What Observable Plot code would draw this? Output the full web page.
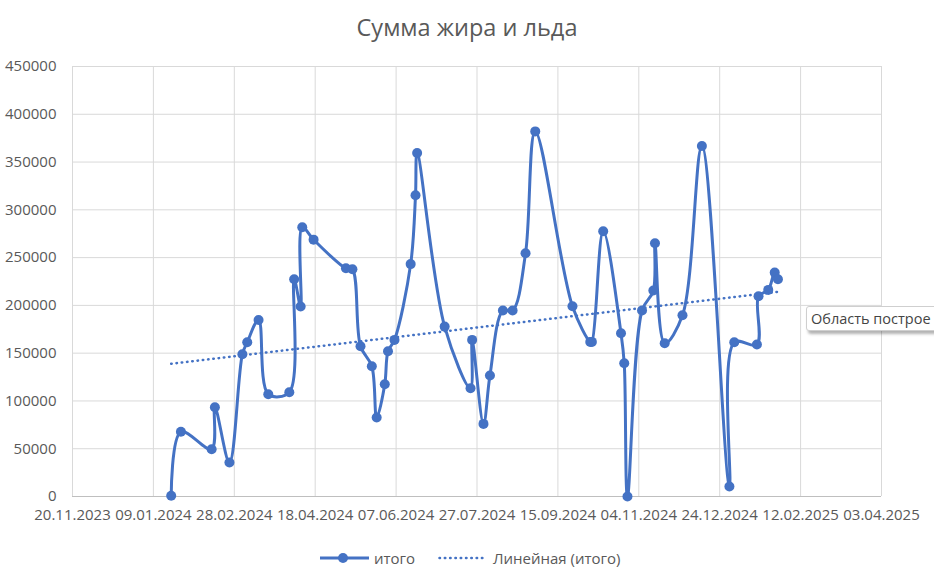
<!DOCTYPE html>
<html><head><meta charset="utf-8">
<script src="https://cdn.jsdelivr.net/npm/d3@7"></script>
<script src="https://cdn.jsdelivr.net/npm/@observablehq/plot@0.6"></script>
<style>
html,body{margin:0;padding:0;background:#fff;overflow:hidden;width:934px;height:574px}
#wrap{position:relative;width:934px;height:574px;font-family:"Open Sans",sans-serif;color:#595959;overflow:hidden}
#title{position:absolute;left:0;width:934px;top:11px;text-align:center;font-size:23.5px;line-height:32px}
#chart{position:absolute;left:0;top:0}
#legend{position:absolute;left:0;top:547px;width:934px;height:22px;font-size:15px;line-height:22px}
#legend span{position:absolute;top:0}
#legend svg{position:absolute;top:0}
#tip{position:absolute;left:806px;top:306px;width:140px;height:23px;line-height:23px;padding:0 0 0 4px;background:#fff;border:1px solid #cfcfcf;border-radius:3px;box-shadow:2px 3px 3px rgba(0,0,0,0.3);font-size:14.5px;color:#444;white-space:nowrap}
</style></head>
<body><div id="wrap">
<div id="chart"></div>
<div id="title">Сумма жира и льда</div>
<div id="legend">
  <svg style="left:320px" width="50" height="22"><line x1="0" x2="49" y1="11" y2="11" stroke="#4472C4" stroke-width="3"/><circle cx="23" cy="11" r="5" fill="#4472C4"/></svg>
  <span style="left:374px">итого</span>
  <svg style="left:438px" width="50" height="22"><line x1="1.5" x2="49" y1="11" y2="11" stroke="#4472C4" stroke-width="2.5" stroke-linecap="round" stroke-dasharray="0.5,4.8"/></svg>
  <span style="left:493px">Линейная (итого)</span>
</div>
<div id="tip">Область построе</div>
</div>
<script>
const dates = [
  "2024-01-20","2024-01-26","2024-02-14","2024-02-16","2024-02-25","2024-03-04","2024-03-07","2024-03-14",
  "2024-03-20","2024-04-02","2024-04-05","2024-04-09","2024-04-10","2024-04-17","2024-05-07","2024-05-11",
  "2024-05-16","2024-05-23","2024-05-26","2024-05-31","2024-06-02","2024-06-06","2024-06-16","2024-06-19",
  "2024-06-20","2024-07-07","2024-07-23","2024-07-24","2024-07-31","2024-08-04","2024-08-12","2024-08-18",
  "2024-08-26","2024-09-01","2024-09-24","2024-10-05","2024-10-06","2024-10-13","2024-10-24","2024-10-26",
  "2024-10-28","2024-11-06","2024-11-13","2024-11-14","2024-11-20","2024-12-01","2024-12-13","2024-12-30",
  "2025-01-02","2025-01-16","2025-01-17","2025-01-23","2025-01-27","2025-01-29"
];
const values = [
  700, 67700, 49500, 93400, 35600, 148900, 161400, 184800,
  107000, 109100, 227300, 198800, 281700, 268800, 238800, 237800,
  157200, 136300, 82600, 117500, 152000, 163900, 243200, 315200,
  359500, 177800, 113300, 163900, 76000, 126600, 194600, 194600,
  254500, 382100, 199100, 161800, 161800, 277500, 170800, 139400,
  0, 194600, 215500, 265000, 160400, 189600, 366800, 10500,
  161400, 159000, 209500, 216200, 234300, 227300
];
const xTickLabels = ["20.11.2023","09.01.2024","28.02.2024","18.04.2024","07.06.2024","27.07.2024",
  "15.09.2024","04.11.2024","24.12.2024","12.02.2025","03.04.2025"];
const yTicks = [0, 50000, 100000, 150000, 200000, 250000, 300000, 350000, 400000, 450000];

const parse = d3.utcParse("%Y-%m-%d");
const parseTick = d3.utcParse("%d.%m.%Y");
const data = dates.map((d, i) => ({date: parse(d), value: values[i]}));
const xTicks = xTickLabels.map(parseTick);
const blue = "#4472C4";

const chart = Plot.plot({
  width: 934, height: 574,
  marginLeft: 72, marginRight: 53, marginTop: 66, marginBottom: 78,
  style: {fontFamily: "Open Sans", fontSize: "15px", color: "#595959", background: "transparent", overflow: "visible"},
  x: {type: "utc", domain: [xTicks[0], xTicks[xTicks.length - 1]]},
  y: {domain: [0, 450000]},
  marks: [
    Plot.gridX(xTicks, {stroke: "#d9d9d9", strokeOpacity: 1}),
    Plot.gridY(yTicks, {stroke: "#d9d9d9", strokeOpacity: 1}),
    Plot.ruleY([0], {stroke: "#bfbfbf", strokeWidth: 1}),
    Plot.axisX(xTicks, {tickSize: 0, tickPadding: 13, tickFormat: d3.utcFormat("%d.%m.%Y"), fontSize: 15, fill: "#595959", label: null}),
    Plot.axisY(yTicks, {tickSize: 0, tickPadding: 16, tickFormat: d => String(d), fontSize: 15, fill: "#595959", label: null}),
    Plot.linearRegressionY(data, {x: "date", y: "value", ci: 0, stroke: blue, strokeWidth: 2.5, strokeLinecap: "round", strokeDasharray: "0.5,4.8"}),
    Plot.line(data, {x: "date", y: "value", curve: "catmull-rom", stroke: blue, strokeWidth: 3}),
    Plot.dot(data, {x: "date", y: "value", r: 5, fill: blue, stroke: "none"})
  ]
});
document.getElementById("chart").appendChild(chart);
</script>
</body></html>
